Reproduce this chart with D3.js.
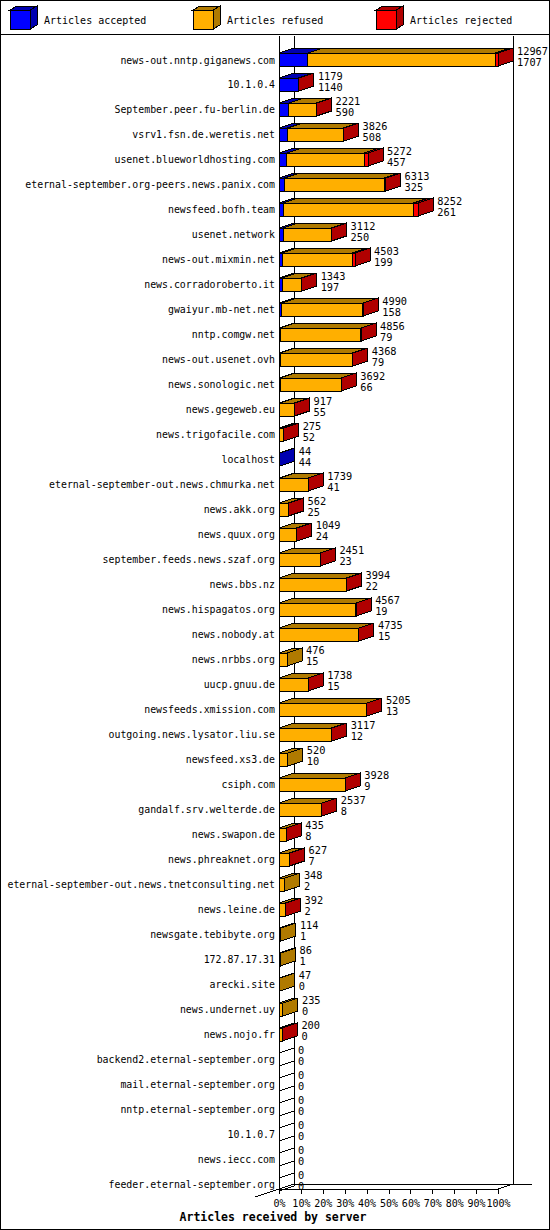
<!DOCTYPE html>
<html>
<head>
<meta charset="utf-8">
<script src="https://cdn.jsdelivr.net/npm/d3@7"></script>
<style>
  body { margin: 0; background: #fff; }
  svg { display: block; }
  text { font-family: "DejaVu Sans Mono", monospace; fill: #000; }
</style>
</head>
<body>
<script>
// rows, sorted by accepted articles
const servers = [
  "news-out.nntp.giganews.com", "10.1.0.4", "September.peer.fu-berlin.de", "vsrv1.fsn.de.weretis.net",
  "usenet.blueworldhosting.com", "eternal-september.org-peers.news.panix.com", "newsfeed.bofh.team",
  "usenet.network", "news-out.mixmin.net", "news.corradoroberto.it", "gwaiyur.mb-net.net", "nntp.comgw.net",
  "news-out.usenet.ovh", "news.sonologic.net", "news.gegeweb.eu", "news.trigofacile.com", "localhost",
  "eternal-september-out.news.chmurka.net", "news.akk.org", "news.quux.org", "september.feeds.news.szaf.org",
  "news.bbs.nz", "news.hispagatos.org", "news.nobody.at", "news.nrbbs.org", "uucp.gnuu.de",
  "newsfeeds.xmission.com", "outgoing.news.lysator.liu.se", "newsfeed.xs3.de", "csiph.com",
  "gandalf.srv.welterde.de", "news.swapon.de", "news.phreaknet.org",
  "eternal-september-out.news.tnetconsulting.net", "news.leine.de", "newsgate.tebibyte.org", "172.87.17.31",
  "arecki.site", "news.undernet.uy", "news.nojo.fr", "backend2.eternal-september.org",
  "mail.eternal-september.org", "nntp.eternal-september.org", "10.1.0.7", "news.iecc.com",
  "feeder.eternal-september.org"
];
const accepted = [1707, 1140, 590, 508, 457, 325, 261, 250, 199, 197, 158, 79, 79, 66, 55, 52, 44, 41, 25, 24,
  23, 22, 19, 15, 15, 15, 13, 12, 10, 9, 8, 8, 7, 2, 2, 1, 1, 0, 0, 0, 0, 0, 0, 0, 0, 0];
const refused = [11100, 0, 1611, 3298, 4595, 5908, 7701, 2842, 4144, 1136, 4812, 4757, 4269, 3606, 852, 213, 0,
  1688, 527, 1015, 2418, 3962, 4538, 4710, 461, 1713, 5182, 3095, 510, 3909, 2519, 417, 610, 346, 380, 113, 85,
  47, 235, 190, 0, 0, 0, 0, 0, 0];
const rejected = [160, 39, 20, 20, 220, 80, 290, 20, 160, 10, 20, 20, 20, 20, 10, 10, 0, 10, 10, 10, 10, 10, 10,
  10, 0, 10, 10, 10, 0, 10, 10, 10, 10, 0, 10, 0, 0, 0, 0, 10, 0, 0, 0, 0, 0, 0];
const seriesNames = ["Articles accepted", "Articles refused", "Articles rejected"];
const tickLabels = [0, 10, 20, 30, 40, 50, 60, 70, 80, 90, 100];
const title = "Articles received by server";

const w = 550;
const h = 1230;
const fronts = ["#0000ff", "#ffaf00", "#ff0000"];
const darks = ["#0000b0", "#b07a00", "#b00000"];
const dx = 15, dy = -5;
const x0 = 279, x1 = 498;
const baseY = 1189;

const series = [accepted, refused, rejected];
const totals = servers.map((s, i) => accepted[i] + refused[i] + rejected[i]);

let svg = d3.select("body").append("svg")
  .attr("width", w).attr("height", h)
  .attr("shape-rendering", "crispEdges");

svg.append("rect")
  .attr("x", 0.5).attr("y", 0.5).attr("width", w - 1).attr("height", h - 1)
  .attr("fill", "#fff").attr("stroke", "#000");
svg.append("line")
  .attr("x1", 0).attr("x2", w).attr("y1", 34.5).attr("y2", 34.5)
  .attr("stroke", "#000");

// legend
let legend = svg.append("g");
seriesNames.forEach((name, k) => {
  const lx = 10 + k * 183;
  const g = legend.append("g").attr("transform", "translate(" + lx + ",0)");
  g.append("polygon")
    .attr("points", [[20, 10], [27, 6], [27, 25], [20, 29]].join(" "))
    .attr("fill", darks[k]).attr("stroke", "#000");
  g.append("polygon")
    .attr("points", [[0, 10], [7, 6], [27, 6], [20, 10]].join(" "))
    .attr("fill", darks[k]).attr("stroke", "#000");
  g.append("rect")
    .attr("x", 0).attr("y", 10).attr("width", 20).attr("height", 19)
    .attr("fill", fronts[k]).attr("stroke", "#000");
  g.append("text")
    .attr("x", 34).attr("y", 20)
    .attr("dominant-baseline", "central")
    .attr("font-size", "10px")
    .text(name);
});

let xScale = d3.scaleLinear()
  .domain([0, d3.max(totals)])
  .range([x0, x1]);

let pct = d3.scaleLinear()
  .domain([0, 100])
  .range([x0, x1]);

let yScale = d3.scalePoint()
  .domain(servers)
  .range([60, 1184.5]);

// walls
let walls = svg.append("g").attr("stroke", "#000");
walls.append("line").attr("x1", x0 + 0.5).attr("x2", x0 + 0.5).attr("y1", 36).attr("y2", baseY);
walls.append("line").attr("x1", x0 + dx + 0.5).attr("x2", x0 + dx + 0.5).attr("y1", 36).attr("y2", baseY + dy);
walls.append("line").attr("x1", x1 + dx + 0.5).attr("x2", x1 + dx + 0.5).attr("y1", 36).attr("y2", baseY + dy);
walls.append("line").attr("x1", x0).attr("x2", x1).attr("y1", baseY + 0.5).attr("y2", baseY + 0.5);
walls.append("line").attr("x1", x0 + dx).attr("x2", x1 + dx + 19).attr("y1", baseY + dy + 0.5).attr("y2", baseY + dy + 0.5);
walls.append("line").attr("x1", x1).attr("x2", x1 + dx).attr("y1", baseY).attr("y2", baseY + dy);
walls.append("line").attr("x1", x0 - 24).attr("x2", x0 + dx).attr("y1", baseY + 8).attr("y2", baseY + dy);

// server labels
svg.append("g").selectAll("text")
  .data(servers)
  .enter()
  .append("text")
  .attr("x", 275)
  .attr("y", (d) => yScale(d))
  .attr("text-anchor", "end")
  .attr("dominant-baseline", "central")
  .attr("font-size", "9.9px")
  .text((d) => d);

// 3d bars
let bars = svg.append("g");
servers.forEach((s, i) => {
  const cy = yScale(s);
  const yT = Math.round(cy - 7), yB = Math.round(cy + 6);
  const g = bars.append("g");
  let cum = 0;
  let last = -1;
  series.forEach((vals, k) => {
    const v = vals[i];
    if (v <= 0) return;
    const xa = xScale(cum), xb = xScale(cum + v);
    g.append("polygon")
      .attr("points", [[xa, yT], [xa + dx, yT + dy], [xb + dx, yT + dy], [xb, yT]].join(" "))
      .attr("fill", darks[k]).attr("stroke", "#000");
    g.append("rect")
      .attr("x", xa).attr("y", yT).attr("width", xb - xa).attr("height", yB - yT)
      .attr("fill", fronts[k]).attr("stroke", "#000");
    cum += v;
    last = k;
  });
  const xe = xScale(totals[i]);
  g.append("polygon")
    .attr("points", [[xe, yT], [xe + dx, yT + dy], [xe + dx, yB + dy], [xe, yB]].join(" "))
    .attr("fill", last < 0 ? "none" : darks[last]).attr("stroke", "#000");
  g.append("text")
    .attr("x", xe + dx + 4).attr("y", cy - 9.3)
    .attr("dominant-baseline", "central")
    .attr("font-size", "10.3px")
    .text(totals[i]);
  g.append("text")
    .attr("x", xe + dx + 4).attr("y", cy + 1.7)
    .attr("dominant-baseline", "central")
    .attr("font-size", "10.3px")
    .text(accepted[i]);
});

// percent axis
const xAxis = d3.axisBottom(pct)
  .tickValues(tickLabels)
  .tickSize(5)
  .tickPadding(6)
  .tickFormat((d) => d + "%");

let ax = svg.append("g")
  .attr("transform", "translate(0," + baseY + ")")
  .call(xAxis);
ax.select(".domain").remove();
ax.selectAll("text")
  .attr("font-family", "\"DejaVu Sans Mono\", monospace")
  .attr("font-size", "10px")
  .attr("fill", "#000");

svg.append("text")
  .attr("x", 273).attr("y", 1217)
  .attr("text-anchor", "middle")
  .attr("dominant-baseline", "central")
  .attr("font-size", "11.5px")
  .attr("font-weight", "bold")
  .text(title);
</script>
</body>
</html>
